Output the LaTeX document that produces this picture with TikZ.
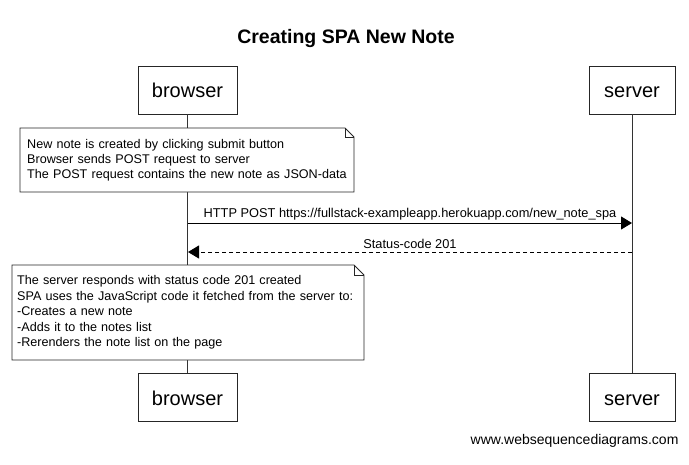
\documentclass[tikz,border=0pt]{standalone}
\usepackage{fontspec}
\setmainfont{Liberation Sans}
\usetikzlibrary{arrows.meta}
\tikzset{
  actor/.style={draw=black!85, line width=0.9pt, fill=white, inner sep=0pt, minimum height=48pt, text height=15pt, text depth=0pt, font=\fontsize{20}{24}\selectfont},
  notetext/.style={inner sep=0pt, align=left, text width=360pt, font=\fontsize{12.6}{15}\selectfont, anchor=west},
  notedraw/.style={draw=black!85, line width=0.9pt, fill=white},
  foldline/.style={draw=black!85, line width=0.9pt},
  life/.style={draw=black!80, line width=0.8pt},
  msg/.style={draw=black, line width=0.9pt, -{Triangle[length=11pt,width=13pt]}},
  lbl/.style={font=\fontsize{12.8}{15}\selectfont, inner sep=1pt},
}
\begin{document}
\begin{tikzpicture}[x=1pt,y=-1pt]
\useasboundingbox (0,0) rectangle (689,464);
% title
\node[font=\bfseries\fontsize{19.5}{23}\selectfont] (title) at (346,38) {Creating SPA New Note};
% actors
\node[actor, minimum width=99pt] (bt) at (187.5,90) {browser};
\node[actor, minimum width=86pt] (st) at (632,90) {server};
\node[actor, minimum width=99pt] (bb) at (187.5,397.5) {browser};
\node[actor, minimum width=86pt] (sb) at (632,397.5) {server};
% lifelines
\draw[life] (bt.south) -- (bb.north);
\draw[life] (st.south) -- (sb.north);
% note 1
\draw[notedraw] (20,128) -- (345,128) -- (354,137) -- (354,192) -- (20,192) -- cycle;
\draw[foldline] (345,128) |- (354,137);
\node[notetext] (n1) at (27,160.5) {New note is created by clicking submit button\\Browser sends POST request to server\\The POST request contains the new note as JSON-data};
% messages
\coordinate (m1s) at (188,223);
\coordinate (m1e) at (632,223);
\draw[msg] (m1s) -- (m1e) node[lbl, midway, above=1pt] (l1) {HTTP POST https://fullstack-exampleapp.herokuapp.com/new\_note\_spa};
\coordinate (m2s) at (632,252);
\coordinate (m2e) at (188,252);
\draw[msg, dash pattern=on 4pt off 3pt] (m2s) -- (m2e) node[lbl, midway, above=1.5pt] (l2) {Status-code 201};
% note 2
\draw[notedraw] (12,265) -- (354,265) -- (364,275) -- (364,360) -- (12,360) -- cycle;
\draw[foldline] (354,265) |- (364,275);
\node[notetext, font=\fontsize{12.6}{15.5}\selectfont] (n2) at (17,312.5) {The server responds with status code 201 created\\SPA uses the JavaScript code it fetched from the server to:\\-Creates a new note\\-Adds it to the notes list\\-Rerenders the note list on the page};
% watermark
\node[anchor=east, font=\fontsize{14}{17}\selectfont] (wm) at (682,441) {www.websequencediagrams.com};
\end{tikzpicture}
\end{document}
